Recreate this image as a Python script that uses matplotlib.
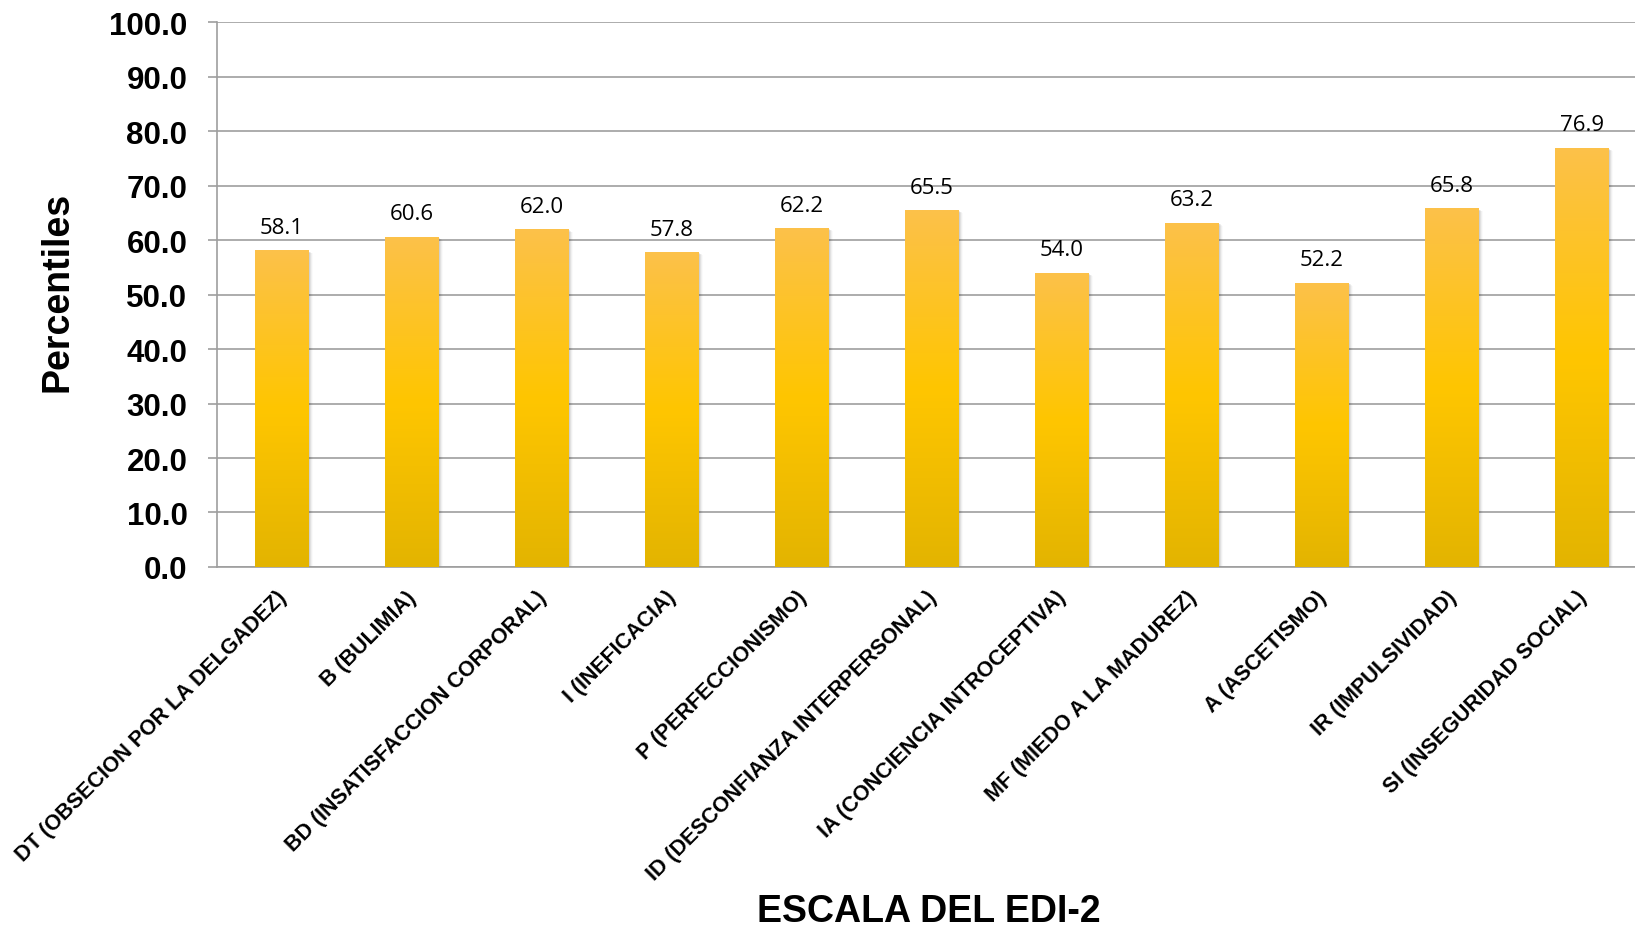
import numpy as np
import matplotlib
matplotlib.use("Agg")
import matplotlib.pyplot as plt
import matplotlib.transforms as mtransforms
from matplotlib.colors import LinearSegmentedColormap
from matplotlib.patches import Rectangle

escalas = ["DT (OBSECION POR LA DELGADEZ)", "B (BULIMIA)",
           "BD (INSATISFACCION CORPORAL)", "I (INEFICACIA)",
           "P (PERFECCIONISMO)", "ID (DESCONFIANZA INTERPERSONAL)",
           "IA (CONCIENCIA INTROCEPTIVA)", "MF (MIEDO A LA MADUREZ)",
           "A (ASCETISMO)", "IR (IMPULSIVIDAD)", "SI (INSEGURIDAD SOCIAL)"]
percentiles = [58.1, 60.6, 62.0, 57.8, 62.2, 65.5, 54.0, 63.2, 52.2, 65.8, 76.9]
yticks = [0, 10, 20, 30, 40, 50, 60, 70, 80, 90, 100]

fig = plt.figure(figsize=(16.35, 9.29), dpi=100)
ax = fig.add_axes([0.1325, 0.3886, 0.8746, 0.5866])

grad = LinearSegmentedColormap.from_list(
    "oro", [(0.0, "#e3b400"), (0.5, "#ffc600"), (1.0, "#fcc14a")])
col = np.linspace(0, 1, 256).reshape(-1, 1)

x = np.arange(len(escalas))
w = 0.41
for xi, v in zip(x, percentiles):
    # sombra suave
    for k, a in zip(range(1, 6), [0.10, 0.08, 0.06, 0.04, 0.02]):
        tr = mtransforms.offset_copy(ax.transData, fig=fig, x=k * 0.9, y=-k * 0.6, units="dots")
        ax.add_patch(Rectangle((xi - w / 2, 0), w, v, transform=tr,
                               facecolor="black", alpha=a, lw=0, zorder=2))
    r = Rectangle((xi - w / 2, 0), w, v, facecolor="none", lw=0, zorder=3)
    ax.add_patch(r)
    im = ax.imshow(col, cmap=grad, origin="lower", aspect="auto",
                   extent=[xi - w / 2, xi + w / 2, 0, v], zorder=3)
    im.set_clip_path(r)
    ax.annotate(f"{v:.1f}", (xi, v), xytext=(0, 9), textcoords="offset points",
                ha="center", va="bottom", fontsize=16, family="Open Sans", color="black")

ax.set_xlim(-0.5, len(escalas) - 0.5)
ax.set_ylim(0, 100)
ax.set_yticks(yticks)
ax.set_yticklabels([f"{t:.1f}" for t in yticks], fontsize=22.5, fontweight="bold",
                   family="Liberation Sans")
ax.yaxis.grid(True, color="#9e9e9e", lw=1.2, zorder=0)
ax.set_axisbelow(True)
ax.tick_params(axis="y", length=6.5, width=1.2, color="#9e9e9e", pad=14.5)

ax.set_xticks(x)
ax.set_xticklabels(escalas, rotation=45, ha="right", va="top", rotation_mode="anchor",
                   fontsize=15.5, fontweight="bold", family="Liberation Sans")
ax.tick_params(axis="x", length=0, pad=14)
off = mtransforms.ScaledTranslation(-6 / 100, 0, fig.dpi_scale_trans)
for lab in ax.get_xticklabels():
    lab.set_transform(lab.get_transform() + off)

for s in ["top", "right"]:
    ax.spines[s].set_visible(False)
for s in ["left", "bottom"]:
    ax.spines[s].set_color("#9e9e9e")
    ax.spines[s].set_linewidth(1.2)

fig.text(0.035, 0.686, "Percentiles", rotation=90, ha="center", va="center",
         fontsize=27, fontweight="bold", family="Liberation Sans")
fig.text(0.568, 0.018, "ESCALA DEL EDI-2", ha="center", va="center",
         fontsize=27, fontweight="bold", family="Liberation Sans")

fig.savefig("out.png", dpi=100)
